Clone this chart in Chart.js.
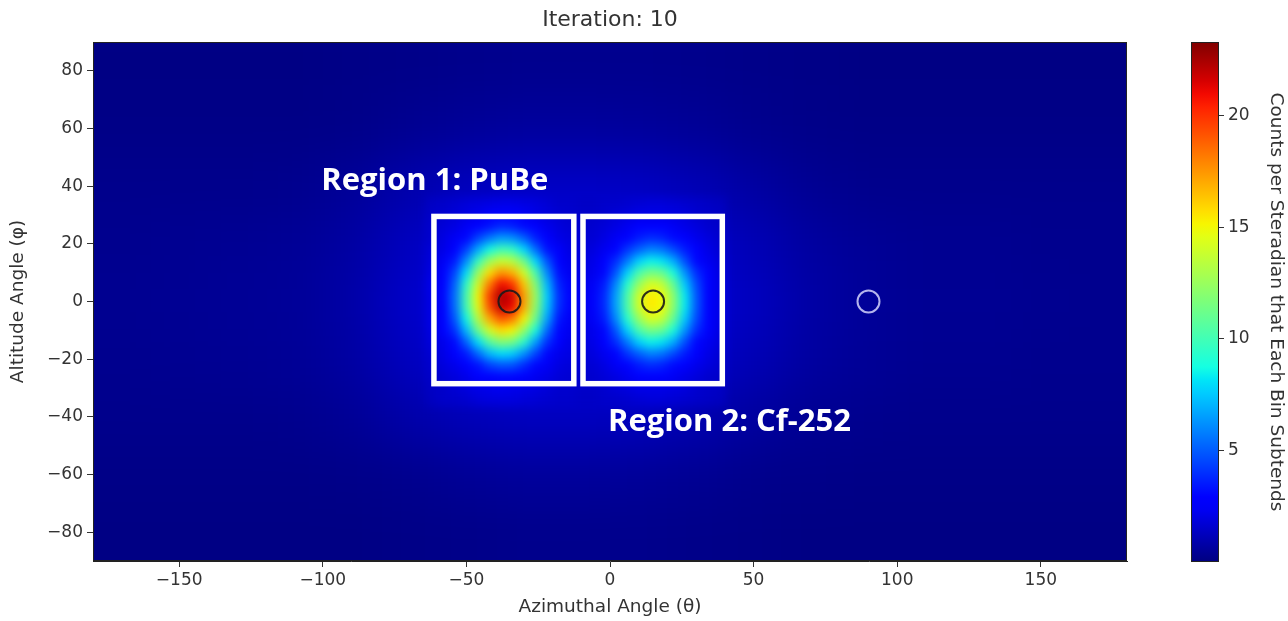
<!DOCTYPE html>
<html>
<head>
<meta charset="utf-8">
<title>Iteration: 10</title>
<script src="https://cdn.jsdelivr.net/npm/chart.js@4.4.1/dist/chart.umd.min.js"></script>
<style>
  html, body { margin: 0; padding: 0; background: #fff; }
  #wrap { position: relative; width: 1288px; height: 621px; }
  #wrap canvas { position: absolute; left: 0; top: 0; }
</style>
</head>
<body>
<div id="wrap">
  <canvas id="map" width="1288" height="621"></canvas>
  <canvas id="bar" width="1288" height="621"></canvas>
</div>
<script>
// tick labels
const thetaTicks = [-150, -100, -50, 0, 50, 100, 150];
const phiTicks = [-80, -60, -40, -20, 0, 20, 40, 60, 80];
const countTicks = [5, 10, 15, 20];
const countMin = 0;
const countMax = 23.3;

// coarse background bins (20 deg), centres
const bgTheta = [-170, -150, -130, -110, -90, -70, -50, -30, -10, 10, 30, 50, 70, 90, 110, 130, 150, 170];
const bgPhi = [80, 60, 40, 20, 0, -20, -40, -60, -80];
const bgCounts = [
  [0.1, 0.1, 0.1, 0.1, 0.15, 0.2, 0.25, 0.3, 0.3, 0.3, 0.25, 0.2, 0.15, 0.1, 0.1, 0.1, 0.1, 0.1],
  [0.15, 0.15, 0.15, 0.15, 0.2, 0.35, 0.5, 0.6, 0.6, 0.55, 0.45, 0.3, 0.2, 0.15, 0.15, 0.15, 0.15, 0.15],
  [0.25, 0.25, 0.25, 0.3, 0.5, 0.9, 1.25, 1.4, 1.4, 1.35, 1.1, 0.7, 0.4, 0.25, 0.25, 0.25, 0.25, 0.25],
  [0.3, 0.35, 0.4, 0.45, 0.7, 1.3, 1.7, 1.9, 1.9, 1.8, 1.5, 1.1, 0.65, 0.45, 0.35, 0.35, 0.3, 0.3],
  [0.35, 0.4, 0.45, 0.5, 0.8, 1.5, 1.9, 2.1, 2.1, 2.0, 1.7, 1.3, 0.75, 0.5, 0.4, 0.4, 0.35, 0.3],
  [0.3, 0.35, 0.4, 0.45, 0.7, 1.3, 1.7, 1.9, 1.9, 1.8, 1.5, 1.1, 0.65, 0.45, 0.35, 0.35, 0.3, 0.3],
  [0.25, 0.25, 0.25, 0.3, 0.45, 0.85, 1.15, 1.3, 1.3, 1.25, 1.0, 0.65, 0.4, 0.3, 0.25, 0.25, 0.25, 0.25],
  [0.15, 0.15, 0.15, 0.15, 0.2, 0.3, 0.45, 0.55, 0.55, 0.5, 0.4, 0.25, 0.2, 0.15, 0.15, 0.15, 0.15, 0.15],
  [0.1, 0.1, 0.1, 0.1, 0.1, 0.15, 0.2, 0.25, 0.25, 0.25, 0.2, 0.15, 0.1, 0.1, 0.1, 0.1, 0.1, 0.1]
];

// fine bins (4 deg) around the two sources, centres
const fineTheta = [-62, -58, -54, -50, -46, -42, -38, -34, -30, -26, -22, -18, -14, -10, -6, -2, 2, 6, 10, 14, 18, 22, 26, 30, 34, 38];
const finePhi = [34, 30, 26, 22, 18, 14, 10, 6, 2, -2, -6, -10, -14, -18, -22, -26, -30, -34];
const fineCounts = [
  [1.4, 1.5, 1.6, 1.8, 1.9, 2.0, 2.1, 2.1, 2.0, 1.9, 1.7, 1.5, 1.5, 1.4, 1.4, 1.5, 1.5, 1.6, 1.7, 1.8, 1.8, 1.7, 1.6, 1.5, 1.4, 1.3],
  [1.5, 1.6, 1.8, 2.0, 2.2, 2.5, 2.6, 2.6, 2.4, 2.1, 1.9, 1.7, 1.6, 1.5, 1.5, 1.6, 1.8, 1.9, 2.1, 2.1, 2.1, 2.0, 1.9, 1.6, 1.5, 1.4],
  [1.6, 1.8, 2.0, 2.4, 2.9, 3.3, 3.8, 3.6, 3.1, 2.7, 2.2, 1.9, 1.7, 1.6, 1.6, 1.8, 2.0, 2.3, 2.6, 2.7, 2.6, 2.4, 2.1, 1.9, 1.6, 1.5],
  [1.6, 2.0, 2.4, 3.0, 4.4, 5.6, 6.5, 6.2, 5.1, 3.6, 2.7, 2.1, 1.9, 1.7, 1.7, 2.0, 2.4, 2.9, 3.5, 3.9, 3.7, 3.1, 2.7, 2.2, 1.9, 1.6],
  [1.8, 2.1, 2.9, 4.4, 6.8, 8.7, 10.0, 9.6, 7.9, 5.4, 3.3, 2.5, 2.0, 1.8, 1.9, 2.3, 2.9, 4.1, 5.1, 5.9, 5.6, 4.6, 3.5, 2.6, 2.1, 1.7],
  [1.9, 2.4, 3.5, 6.2, 9.6, 12.6, 13.9, 13.4, 11.3, 7.9, 4.8, 2.9, 2.2, 1.9, 2.1, 2.7, 3.9, 5.7, 7.7, 8.5, 8.2, 6.9, 4.7, 3.0, 2.3, 1.9],
  [2.0, 2.7, 4.5, 8.0, 12.4, 15.7, 17.6, 16.8, 14.1, 10.2, 6.1, 3.2, 2.3, 2.0, 2.2, 3.0, 4.8, 7.7, 10.2, 11.5, 11.1, 8.9, 6.3, 3.9, 2.6, 2.0],
  [2.2, 2.9, 5.2, 9.4, 14.1, 18.2, 21.0, 20.0, 16.3, 11.9, 7.2, 3.7, 2.5, 2.1, 2.4, 3.5, 6.0, 9.2, 12.4, 14.3, 13.7, 11.0, 7.6, 4.6, 2.8, 2.1],
  [2.1, 3.0, 5.5, 10.1, 15.0, 19.8, 22.5, 21.6, 17.3, 12.6, 7.7, 4.0, 2.6, 2.2, 2.5, 3.8, 6.6, 10.2, 14.0, 15.4, 15.0, 12.1, 8.3, 4.9, 2.9, 2.1],
  [2.1, 2.9, 5.4, 9.9, 14.6, 19.2, 22.0, 21.1, 17.0, 12.3, 7.5, 3.9, 2.6, 2.2, 2.5, 3.8, 6.6, 10.2, 14.0, 15.4, 15.0, 12.1, 8.3, 4.9, 2.9, 2.1],
  [2.1, 2.8, 4.9, 8.6, 13.3, 17.0, 19.1, 18.2, 15.2, 11.2, 6.7, 3.4, 2.4, 2.1, 2.4, 3.5, 6.0, 9.2, 12.4, 14.3, 13.7, 11.0, 7.6, 4.6, 2.8, 2.1],
  [2.0, 2.6, 4.0, 7.2, 11.1, 14.1, 15.7, 15.1, 12.4, 8.9, 5.3, 3.0, 2.3, 2.0, 2.2, 3.0, 4.8, 7.7, 10.2, 11.5, 11.1, 8.9, 6.3, 3.9, 2.6, 2.0],
  [1.9, 2.2, 3.1, 5.2, 8.0, 10.6, 11.9, 11.5, 9.4, 6.6, 4.0, 2.7, 2.1, 1.9, 2.1, 2.7, 3.9, 5.7, 7.7, 8.5, 8.2, 6.9, 4.7, 3.0, 2.3, 1.9],
  [1.7, 2.1, 2.6, 3.5, 5.3, 7.2, 8.0, 7.7, 6.3, 4.5, 3.0, 2.2, 2.0, 1.8, 1.9, 2.3, 2.9, 4.1, 5.1, 5.9, 5.6, 4.6, 3.5, 2.6, 2.1, 1.7],
  [1.6, 1.9, 2.2, 2.7, 3.3, 4.4, 4.9, 4.8, 3.9, 3.0, 2.4, 2.0, 1.8, 1.7, 1.7, 2.0, 2.4, 2.9, 3.5, 3.9, 3.7, 3.1, 2.7, 2.2, 1.9, 1.6],
  [1.5, 1.7, 1.9, 2.2, 2.6, 2.9, 3.0, 3.0, 2.8, 2.3, 2.1, 1.8, 1.7, 1.6, 1.6, 1.8, 2.0, 2.3, 2.6, 2.7, 2.6, 2.4, 2.1, 1.9, 1.6, 1.5],
  [1.4, 1.5, 1.7, 1.9, 2.1, 2.2, 2.3, 2.2, 2.1, 2.0, 1.8, 1.6, 1.6, 1.5, 1.5, 1.6, 1.8, 1.9, 2.1, 2.1, 2.1, 2.0, 1.9, 1.6, 1.5, 1.4],
  [1.3, 1.5, 1.5, 1.6, 1.8, 1.9, 1.9, 1.9, 1.8, 1.7, 1.6, 1.5, 1.5, 1.4, 1.4, 1.5, 1.5, 1.6, 1.7, 1.8, 1.8, 1.7, 1.6, 1.5, 1.4, 1.3]
];

// known source positions (circles)
const sourceTheta = [-35, 15, 90];
const sourcePhi = [0, 0, 0];

// regions of interest
const regionNames = ['Region 1: PuBe', 'Region 2: Cf-252'];
const regionTheta = [[-61.3, -12.6], [-9.4, 39.1]];
const regionPhi = [[-28.5, 29.5], [-28.5, 29.5]];
const regionLabelTheta = [-61, 41.6];
const regionLabelPhi = [41.7, -41.8];

const FONT = 'DejaVu Sans';
Chart.defaults.font.family = FONT;
Chart.defaults.color = '#333';

// matplotlib "jet"
const jetR = [[0, 0], [0.35, 0], [0.66, 1], [0.89, 1], [1, 0.5]];
const jetG = [[0, 0], [0.125, 0], [0.375, 1], [0.64, 1], [0.91, 0], [1, 0]];
const jetB = [[0, 0.5], [0.11, 1], [0.34, 1], [0.65, 0], [1, 0]];

function channel(stops, t) {
  for (let i = 1; i < stops.length; i++) {
    if (t <= stops[i][0]) {
      const [t0, v0] = stops[i - 1];
      const [t1, v1] = stops[i];
      return v0 + (v1 - v0) * (t - t0) / (t1 - t0);
    }
  }
  return stops[stops.length - 1][1];
}

function jet(v) {
  const t = Math.min(1, Math.max(0, (v - countMin) / (countMax - countMin)));
  const r = Math.round(channel(jetR, t) * 255);
  const g = Math.round(channel(jetG, t) * 255);
  const b = Math.round(channel(jetB, t) * 255);
  return `rgb(${r},${g},${b})`;
}

function minusSign(v) {
  return String(v).replace('-', '\u2212');
}

// paint one grid of bins into an offscreen context
function paintGrid(g, xs, ys, cx, cy, counts, bleed) {
  const hx = Math.abs(cx[1] - cx[0]) / 2;
  const hy = Math.abs(cy[1] - cy[0]) / 2;
  counts.forEach((row, j) => {
    row.forEach((v, i) => {
      let x0 = xs.getPixelForValue(cx[i] - hx);
      let x1 = xs.getPixelForValue(cx[i] + hx);
      let y0 = ys.getPixelForValue(cy[j] + hy);
      let y1 = ys.getPixelForValue(cy[j] - hy);
      if (bleed) {
        if (i === 0) x0 -= bleed;
        if (i === row.length - 1) x1 += bleed;
        if (j === 0) y0 -= bleed;
        if (j === counts.length - 1) y1 += bleed;
      }
      g.fillStyle = jet(v);
      g.fillRect(x0, y0, x1 - x0 + 0.6, y1 - y0 + 0.6);
    });
  });
}

const heatmapPlugin = {
  id: 'heatmap',
  beforeDatasetsDraw(chart) {
    const { ctx, chartArea: a, scales: { x, y } } = chart;
    const layer = document.createElement('canvas');
    layer.width = chart.width;
    layer.height = chart.height;
    const g = layer.getContext('2d');

    ctx.save();
    ctx.beginPath();
    ctx.rect(a.left, a.top, a.width, a.height);
    ctx.clip();
    ctx.fillStyle = jet(0.3);
    ctx.fillRect(a.left, a.top, a.width, a.height);

    paintGrid(g, x, y, bgTheta, bgPhi, bgCounts, 80);
    ctx.filter = 'blur(22px)';
    ctx.drawImage(layer, 0, 0);

    g.clearRect(0, 0, layer.width, layer.height);
    paintGrid(g, x, y, fineTheta, finePhi, fineCounts, 0);
    ctx.filter = 'blur(5px)';
    ctx.drawImage(layer, 0, 0);
    ctx.filter = 'none';
    ctx.restore();
  }
};

const regionPlugin = {
  id: 'regions',
  afterDatasetsDraw(chart) {
    const { ctx, scales: { x, y } } = chart;
    ctx.save();
    ctx.strokeStyle = '#fff';
    ctx.lineWidth = 5.5;
    regionNames.forEach((name, i) => {
      const x0 = x.getPixelForValue(regionTheta[i][0]);
      const x1 = x.getPixelForValue(regionTheta[i][1]);
      const y0 = y.getPixelForValue(regionPhi[i][1]);
      const y1 = y.getPixelForValue(regionPhi[i][0]);
      ctx.strokeRect(x0, y0, x1 - x0, y1 - y0);

      ctx.fillStyle = '#fff';
      ctx.font = 'bold 31px "Open Sans"';
      ctx.textAlign = 'center';
      ctx.textBaseline = 'middle';
      ctx.fillText(name, x.getPixelForValue(regionLabelTheta[i]), y.getPixelForValue(regionLabelPhi[i]), name.length > 14 ? 252 : 232);
    });
    ctx.restore();
  },
  afterDraw(chart) {
    const { ctx, chartArea: a } = chart;
    ctx.save();
    ctx.strokeStyle = '#222';
    ctx.lineWidth = 1;
    ctx.strokeRect(a.left + 0.5, a.top + 0.5, a.width - 1, a.height - 1);
    ctx.restore();
  }
};

const axisTitleFont = { family: FONT, size: 18.5 };
const tickFont = { family: FONT, size: 17 };

const mapChart = new Chart(document.getElementById('map'), {
  type: 'scatter',
  data: {
    datasets: [{
      label: 'sources',
      data: sourceTheta.map((t, i) => ({ x: t, y: sourcePhi[i] })),
      pointRadius: 11,
      pointHoverRadius: 11,
      pointBorderWidth: 2,
      pointBackgroundColor: 'rgba(0,0,0,0)',
      pointBorderColor: ['rgba(25,25,25,0.9)', 'rgba(25,25,25,0.9)', 'rgba(200,200,245,0.9)']
    }]
  },
  options: {
    responsive: false,
    animation: false,
    events: [],
    layout: { padding: { left: 0, right: 161, top: 0, bottom: 0 } },
    plugins: {
      legend: { display: false },
      tooltip: { enabled: false },
      title: {
        display: true,
        text: 'Iteration: 10',
        fullSize: false,
        color: '#333',
        font: { family: FONT, size: 22, weight: 'normal' },
        padding: { top: 7, bottom: 8.6 }
      }
    },
    scales: {
      x: {
        type: 'linear',
        min: -180,
        max: 180,
        afterBuildTicks: s => { s.ticks = thetaTicks.map(v => ({ value: v })); },
        afterFit: s => { s.height = 60; },
        ticks: { font: tickFont, color: '#333', padding: 3, maxRotation: 0, callback: minusSign },
        grid: { drawOnChartArea: false, tickLength: 6, tickColor: '#333' },
        border: { color: '#222' },
        title: { display: true, text: 'Azimuthal Angle (\u03B8)', font: axisTitleFont, color: '#333', padding: { top: 0, bottom: 3 } }
      },
      y: {
        type: 'linear',
        min: -90,
        max: 90,
        afterBuildTicks: s => { s.ticks = phiTicks.map(v => ({ value: v })); },
        afterFit: s => { s.width = 93; },
        ticks: { font: tickFont, color: '#333', padding: 4, callback: minusSign },
        grid: { drawOnChartArea: false, tickLength: 6, tickColor: '#333' },
        border: { color: '#222' },
        title: { display: true, text: 'Altitude Angle (\u03C6)', font: axisTitleFont, color: '#333', padding: { top: 7, bottom: 0 } }
      }
    }
  },
  plugins: [heatmapPlugin, regionPlugin]
});

// colour bar
const colorbarPlugin = {
  id: 'colorbar',
  beforeDatasetsDraw(chart) {
    const { ctx, chartArea: a, scales: { y } } = chart;
    ctx.save();
    const grad = ctx.createLinearGradient(0, y.getPixelForValue(countMin), 0, y.getPixelForValue(countMax));
    for (let k = 0; k <= 40; k++) {
      grad.addColorStop(k / 40, jet(countMin + (countMax - countMin) * k / 40));
    }
    ctx.fillStyle = grad;
    ctx.fillRect(a.left, a.top, a.width, a.height);
    ctx.strokeStyle = '#222';
    ctx.lineWidth = 1;
    ctx.strokeRect(a.left + 0.5, a.top + 0.5, a.width - 1, a.height - 1);
    ctx.restore();
  }
};

const barChart = new Chart(document.getElementById('bar'), {
  type: 'scatter',
  data: { datasets: [] },
  options: {
    responsive: false,
    animation: false,
    events: [],
    layout: { padding: { left: 1191, right: 0, top: 42, bottom: 59 } },
    plugins: { legend: { display: false }, tooltip: { enabled: false } },
    scales: {
      x: { display: false, min: 0, max: 1 },
      y: {
        position: 'right',
        min: countMin,
        max: countMax,
        afterBuildTicks: s => { s.ticks = countTicks.map(v => ({ value: v })); },
        afterFit: s => { s.width = 69; },
        ticks: { font: tickFont, color: '#333', padding: 4 },
        grid: { drawOnChartArea: false, tickLength: 5, tickColor: '#333' },
        border: { display: false },
        title: {
          display: true,
          text: 'Counts per Steradian that Each Bin Subtends',
          font: { family: FONT, size: 18.5 },
          color: '#333',
          padding: { top: 1, bottom: 0 }
        }
      }
    }
  },
  plugins: [colorbarPlugin]
});
</script>
</body>
</html>
